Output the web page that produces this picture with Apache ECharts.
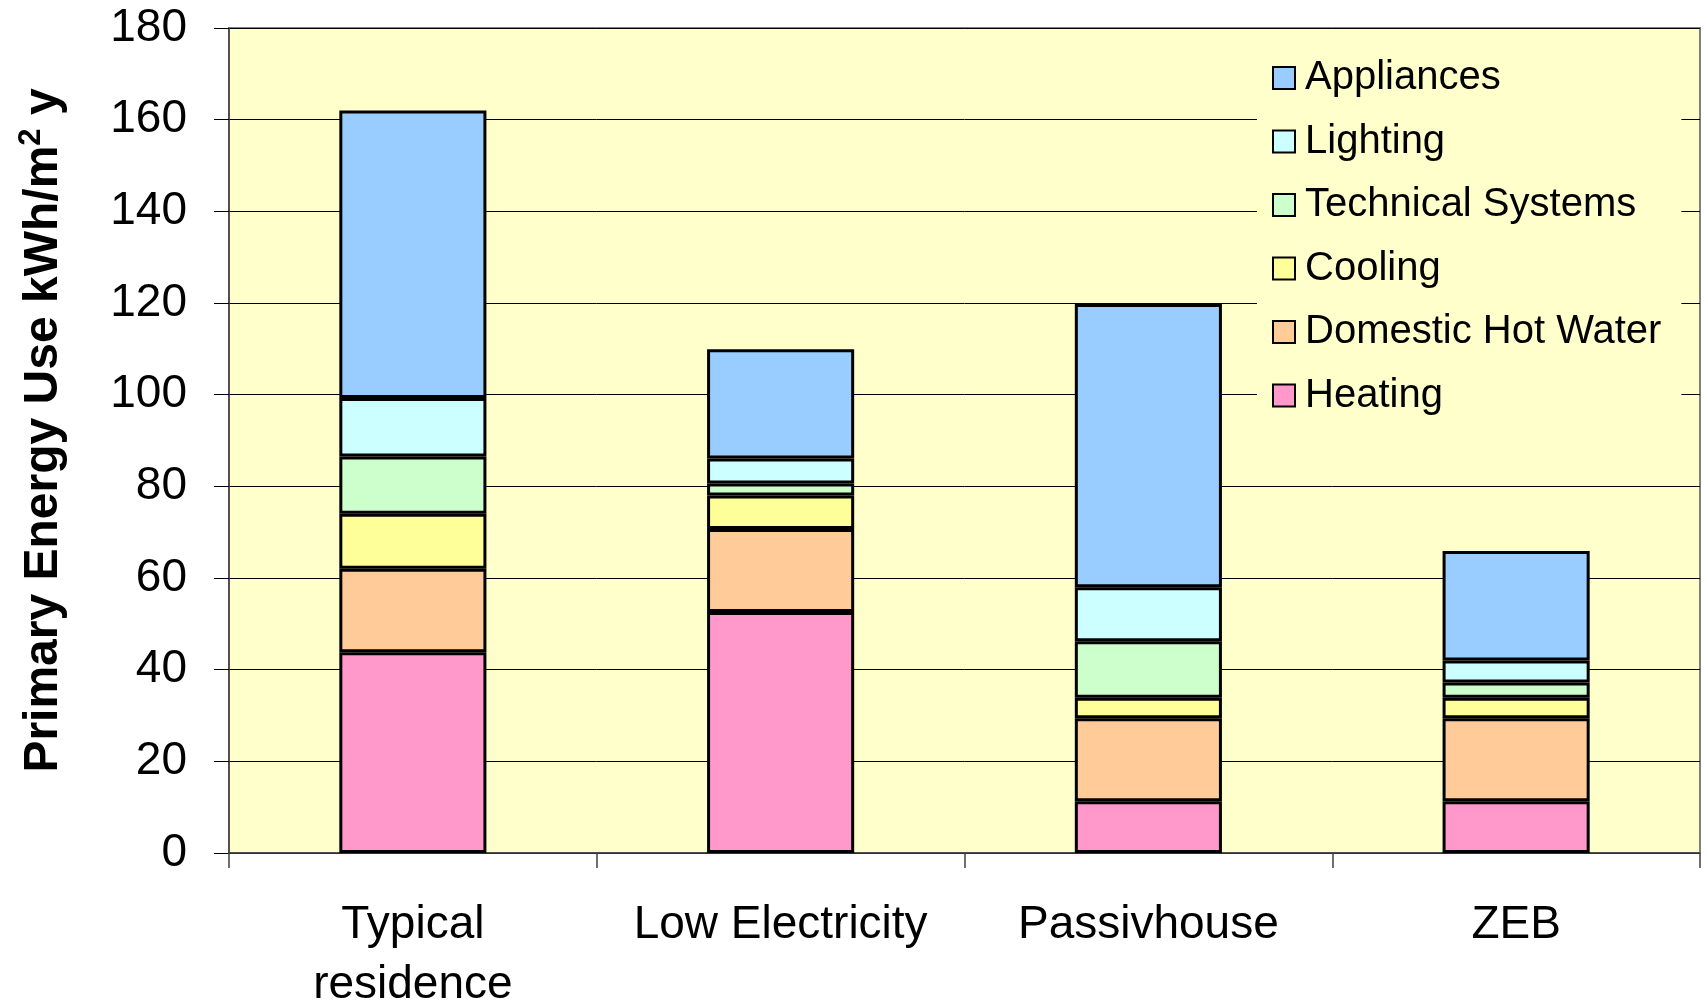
<!DOCTYPE html>
<html>
<head>
<meta charset="utf-8">
<title>Primary Energy Use</title>
<script src="https://cdn.jsdelivr.net/npm/echarts@6/dist/echarts.min.js"></script>
<style>
  html, body { margin: 0; padding: 0; background: #ffffff; }
  #chart { width: 1706px; height: 1007px; }
</style>
</head>
<body>
<div id="chart"></div>
<script>
// Building types on the x axis
const categories = ['Typical\nresidence', 'Low Electricity', 'Passivhouse', 'ZEB'];

// Primary energy use per end use, kWh/m² y (stacked bottom to top)
const heating     = [43.8, 52.6, 11.3, 11.3];
const hotWater    = [18.2, 18.1, 18.1, 18.1];
const cooling     = [12.0, 7.3, 4.5, 4.5];
const technical   = [12.5, 2.6, 12.3, 3.3];
const lighting    = [12.8, 5.5, 11.8, 4.8];
const appliances  = [62.7, 23.8, 61.8, 23.9];

// Value axis ticks
const yMin = 0;
const yMax = 180;
const yStep = 20;

const FONT = '"Liberation Sans", Arial, sans-serif';

function stackSeries(name, values, color) {
  return {
    name: name,
    type: 'bar',
    stack: 'total',
    data: values,
    barCategoryGap: '60%',
    itemStyle: { color: color, borderColor: '#000000', borderWidth: 3 },
    emphasis: { disabled: true }
  };
}

const chart = echarts.init(document.getElementById('chart'), null, { renderer: 'canvas' });

chart.setOption({
  animation: false,
  backgroundColor: '#ffffff',
  textStyle: { fontFamily: FONT },
  grid: {
    left: 229, top: 28, right: 6, bottom: 154,
    outerBoundsMode: 'none',
    containLabel: false,
    show: true,
    backgroundColor: '#FFFFCC',
    borderColor: '#808080',
    borderWidth: 2
  },
  legend: {
    orient: 'vertical',
    left: 1257,
    top: 42,
    padding: [15, 20, 26, 15],
    backgroundColor: '#FFFFCC',
    itemWidth: 22,
    itemHeight: 22,
    itemGap: 21.5,
    icon: 'rect',
    itemStyle: { borderColor: '#000000', borderWidth: 2 },
    textStyle: {
      fontFamily: FONT, fontSize: 40, color: '#000000',
      lineHeight: 42, padding: [0, 0, 0, 5]
    },
    data: ['Appliances', 'Lighting', 'Technical Systems', 'Cooling', 'Domestic Hot Water', 'Heating']
  },
  xAxis: {
    type: 'category',
    data: categories,
    axisLine: { lineStyle: { color: '#404040', width: 1.5 } },
    axisTick: { show: true, length: 15, lineStyle: { color: '#404040', width: 1.5 } },
    axisLabel: {
      fontFamily: FONT, fontSize: 46, color: '#000000',
      lineHeight: 60, margin: 42, interval: 0
    }
  },
  yAxis: {
    type: 'value',
    min: yMin, max: yMax, interval: yStep,
    name: '{t|Primary Energy Use kWh/m}{s|2}{t| y}',
    nameLocation: 'middle',
    nameRotate: 90,
    nameGap: 158,
    nameTextStyle: {
      padding: [0, 0, 0, 20],
      rich: {
        t: { fontFamily: FONT, fontSize: 48, fontWeight: 'bold', color: '#000000' },
        s: { fontFamily: FONT, fontSize: 31, fontWeight: 'bold', color: '#000000', padding: [0, 0, 24, 0] }
      }
    },
    axisLine: { show: true, lineStyle: { color: '#404040', width: 1.5 } },
    axisTick: { show: true, length: 15, lineStyle: { color: '#000000', width: 1 } },
    axisLabel: { fontFamily: FONT, fontSize: 46, color: '#000000', margin: 42 },
    splitLine: { show: true, lineStyle: { color: '#000000', width: 1 } }
  },
  series: [
    stackSeries('Heating', heating, '#FF99CC'),
    stackSeries('Domestic Hot Water', hotWater, '#FFCC99'),
    stackSeries('Cooling', cooling, '#FFFF99'),
    stackSeries('Technical Systems', technical, '#CCFFCC'),
    stackSeries('Lighting', lighting, '#CCFFFF'),
    stackSeries('Appliances', appliances, '#99CCFF')
  ]
});
</script>
</body>
</html>
